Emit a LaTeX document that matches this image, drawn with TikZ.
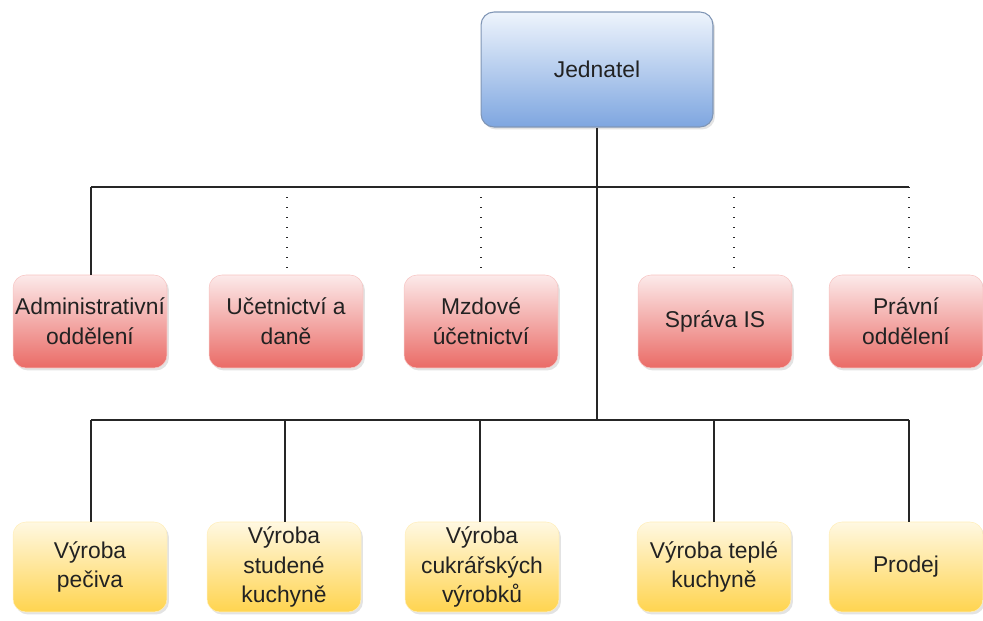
\documentclass[tikz,border=0pt]{standalone}
\usepackage{fontspec}
\setmainfont{Liberation Sans}
\usetikzlibrary{shadows}
\definecolor{bluetop}{HTML}{EEF4FC}
\definecolor{bluebot}{HTML}{7EA6E0}
\definecolor{blueline}{HTML}{7F95B5}
\definecolor{redtop}{HTML}{FCEAEA}
\definecolor{redbot}{HTML}{EA6B66}
\definecolor{yeltop}{HTML}{FFF8E2}
\definecolor{yelbot}{HTML}{FFD44F}
\definecolor{txt}{HTML}{222222}
\tikzset{
  box/.style={rounded corners=0.26cm, align=center, text=txt,
    font=\fontsize{13}{17}\selectfont, inner sep=1pt,
    drop shadow={shadow xshift=0.04cm, shadow yshift=-0.05cm, fill=black!18, opacity=0.6}},
  bluebox/.style={box, draw=blueline, line width=0.6pt, top color=bluetop, bottom color=bluebot,
    minimum width=4.64cm, minimum height=2.3cm},
  redbox/.style={box, draw=redbot!40, line width=0.3pt, top color=redtop, bottom color=redbot,
    minimum width=3.08cm, minimum height=1.86cm},
  yelbox/.style={box, draw=yelbot!40, line width=0.3pt, top color=yeltop, bottom color=yelbot,
    minimum width=3.08cm, minimum height=1.8cm},
  solidline/.style={draw=black!85, line width=0.8pt},
  dotline/.style={draw=black!85, line width=0.7pt, dash pattern=on 0.7pt off 5pt}
}
\begin{document}
\begin{tikzpicture}[x=0.02cm,y=-0.02cm]
\useasboundingbox (0,0) rectangle (983,621);
% nodes
\node[bluebox] (J) at (597,69.5) {Jednatel};
\node[redbox] (A) at (90,321.5) {Administrativní\\oddělení};
\node[redbox] (U) at (286,321.5) {Učetnictví a\\daně};
\node[redbox] (M) at (481,321.5) {Mzdové\\účetnictví};
\node[redbox] (S) at (715,321.5) {Správa IS};
\node[redbox] (P) at (906,321.5) {Právní\\oddělení};
\node[yelbox] (Y1) at (90,567) {Výroba\\pečiva};
\node[yelbox] (Y2) at (284,567) {Výroba\\studené\\kuchyně};
\node[yelbox] (Y3) at (482,567) {Výroba\\cukrářských\\výrobků};
\node[yelbox] (Y4) at (714,567) {Výroba teplé\\kuchyně};
\node[yelbox] (Y5) at (906,567) {Prodej};
% coordinates
\coordinate (tl) at (91,187);
\coordinate (tr) at (909,187);
\coordinate (tu) at (287,187);
\coordinate (tm) at (481,187);
\coordinate (ts) at (734,187);
\coordinate (bc) at (597,420);
\coordinate (bl) at (91,420);
\coordinate (br) at (909,420);
\coordinate (b2) at (285,420);
\coordinate (b3) at (480,420);
\coordinate (b4) at (714,420);
% connectors
\draw[solidline] (J.south) -- (bc);
\draw[solidline] (tl) -- (tr);
\draw[solidline] (tl) -- (tl |- A.north);
\draw[dotline] (tu) -- (tu |- U.north);
\draw[dotline] (tm) -- (tm |- M.north);
\draw[dotline] (ts) -- (ts |- S.north);
\draw[dotline] (tr) -- (tr |- P.north);
\draw[solidline] (bl) -- (br);
\draw[solidline] (bl) -- (bl |- Y1.north);
\draw[solidline] (b2) -- (b2 |- Y2.north);
\draw[solidline] (b3) -- (b3 |- Y3.north);
\draw[solidline] (b4) -- (b4 |- Y4.north);
\draw[solidline] (br) -- (br |- Y5.north);
\end{tikzpicture}
\end{document}
